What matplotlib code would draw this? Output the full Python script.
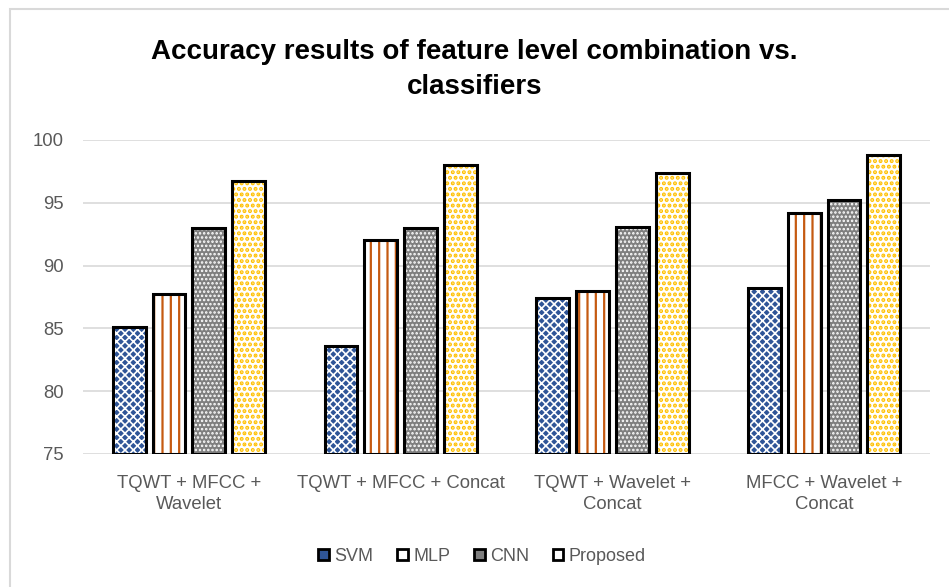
import numpy as np
import matplotlib.pyplot as plt
from matplotlib.patches import Patch, Rectangle

# Data
categories = ["TQWT + MFCC +\nWavelet", "TQWT + MFCC + Concat",
              "TQWT + Wavelet +\nConcat", "MFCC + Wavelet +\nConcat"]
series = ["SVM", "MLP", "CNN", "Proposed"]
svm = [85.1, 83.6, 87.4, 88.2]
mlp = [87.7, 92.0, 88.0, 94.2]
cnn = [93.0, 93.0, 93.1, 95.2]
proposed = [96.7, 98.0, 97.4, 98.8]
yticks = [75, 80, 85, 90, 95, 100]

values = [svm, mlp, cnn, proposed]
# face colour, hatch colour, hatch pattern
styles = [("#2F5597", "white", "xxxx"),
          ("white", "#C55A11", "||"),
          ("#7F7F7F", "white", "...."),
          ("white", "#FFC000", "...")]

plt.rcParams['font.family'] = ['Liberation Sans', 'DejaVu Sans']
fig = plt.figure(figsize=(9.49, 5.87), dpi=100)
ax = fig.add_axes([0.0875, 0.2266, 0.8925, 0.5349])

x = np.arange(len(categories))
w = 0.155
step = 0.188
for i, (vals, (fc, hc, hatch)) in enumerate(zip(values, styles)):
    pos = x + (i - 1.5) * step
    plt.rcParams['hatch.linewidth'] = {1: 1.6, 3: 2.0}.get(i, 1.2)
    ax.bar(pos, np.array(vals) - 75, w, bottom=75, color=fc, edgecolor=hc,
           hatch=hatch, linewidth=0, zorder=3)
    ax.bar(pos, np.array(vals) - 75, w, bottom=75, facecolor="none",
           edgecolor="black", linewidth=2.2, zorder=4)

ax.set_ylim(75, 100)
ax.set_xlim(-0.5, 3.5)
ax.set_yticks(yticks)
ax.set_xticks(x)
ax.set_xticklabels(categories, fontsize=13.3, color="#595959", linespacing=1.35)
ax.tick_params(axis='y', labelsize=13.3, labelcolor="#595959", length=0, pad=14)
ax.tick_params(axis='x', length=0, pad=15)
ax.grid(axis='y', color="#D9D9D9", linewidth=1.2, zorder=0)
for s in ax.spines.values():
    s.set_visible(False)

fig.text(0.5, 0.881, "Accuracy results of feature level combination vs.\nclassifiers",
         ha='center', va='center', fontsize=20, fontweight='bold',
         linespacing=1.45)

handles = []
for fc, hc, hatch in styles:
    handles.append(Patch(facecolor=fc, edgecolor="black", linewidth=2))
fig.legend(handles, series, loc='center', bbox_to_anchor=(0.508, 0.052), ncol=4,
           frameon=False, fontsize=13, handlelength=0.6, handleheight=0.6,
           handletextpad=0.3, columnspacing=1.3, labelcolor="#595959")

# light chart border (only left and top edges fall inside the image)
fig.patches.append(Rectangle((0.011, -0.05), 1.2, 0.05 + 1 - 9 / 587,
                             transform=fig.transFigure, fill=False,
                             edgecolor="#D9D9D9", linewidth=1.5))

fig.savefig("out.png", dpi=100)
